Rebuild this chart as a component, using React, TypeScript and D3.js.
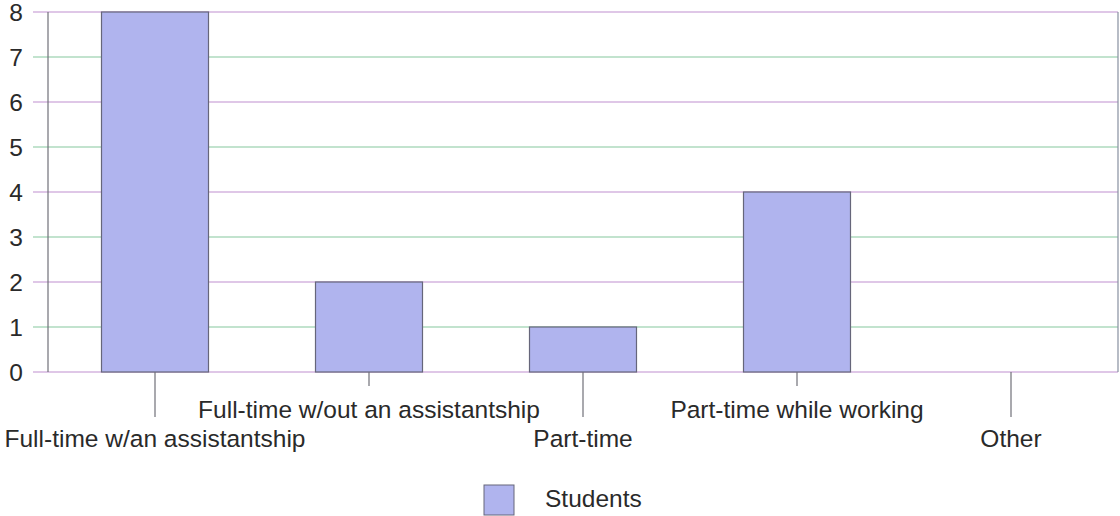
import React from "react";
import * as d3 from "d3";

const categories = [
  "Full-time w/an assistantship",
  "Full-time w/out an assistantship",
  "Part-time",
  "Part-time while working",
  "Other",
];
const students = [8, 2, 1, 4, 0];
const yTicks = [0, 1, 2, 3, 4, 5, 6, 7, 8];
const seriesName = "Students";

const W = 1120;
const H = 516;
const left = 48;
const right = 1118;
const top = 12;
const bottom = 372;

const FONT = "'Liberation Sans', Arial, sans-serif";
const BAR_FILL = "#b0b4ee";
const BAR_STROKE = "#66667a";
const TEXT = "#2a2a2a";
const GRID_A = "#86c89e";
const GRID_B = "#bf8fd0";

export default function App() {
  const x = d3
    .scaleBand<string>()
    .domain(categories)
    .range([left, right])
    .paddingInner(0.5)
    .paddingOuter(0.25);
  const y = d3.scaleLinear().domain([0, 8]).range([bottom, top]);

  return (
    <svg
      width={W}
      height={H}
      style={{ position: "absolute", left: 0, top: 0, background: "#fff" }}
      fontFamily={FONT}
    >
      {yTicks.map((t, i) => (
        <g key={t}>
          <line
            x1={33}
            x2={right}
            y1={y(t)}
            y2={y(t)}
            stroke={i % 2 === 0 ? GRID_B : GRID_A}
            strokeWidth={1.2}
          />
          <text
            x={23}
            y={y(t)}
            dy="0.36em"
            textAnchor="end"
            fontSize={24.5}
            fill={TEXT}
          >
            {t}
          </text>
        </g>
      ))}
      <line x1={left} x2={left} y1={top} y2={bottom} stroke="#707078" strokeWidth={1.2} />
      <line x1={right} x2={right} y1={top} y2={bottom} stroke="#8890a0" strokeWidth={1.2} />

      {categories.map((c, i) =>
        students[i] > 0 ? (
          <rect
            key={c}
            x={x(c)!}
            y={y(students[i])}
            width={x.bandwidth()}
            height={y(0) - y(students[i])}
            fill={BAR_FILL}
            stroke={BAR_STROKE}
            strokeWidth={1.2}
          />
        ) : null
      )}

      {categories.map((c, i) => {
        const cx = x(c)! + x.bandwidth() / 2;
        const long = i % 2 === 0;
        return (
          <g key={c}>
            <line
              x1={cx}
              x2={cx}
              y1={bottom}
              y2={long ? 417 : 386}
              stroke="#707078"
              strokeWidth={1.2}
            />
            <text
              x={cx}
              y={long ? 447 : 418}
              textAnchor="middle"
              fontSize={24.5}
              fill={TEXT}
            >
              {c}
            </text>
          </g>
        );
      })}

      <rect
        x={484}
        y={485}
        width={30}
        height={30}
        fill={BAR_FILL}
        stroke={BAR_STROKE}
        strokeWidth={1}
      />
      <text x={545} y={507} fontSize={24.5} fill={TEXT}>
        {seriesName}
      </text>
    </svg>
  );
}
